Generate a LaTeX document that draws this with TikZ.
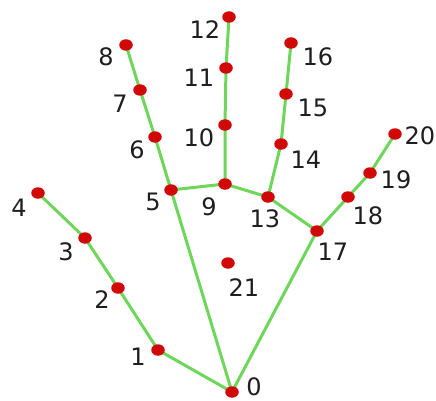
\documentclass[tikz,border=0pt]{standalone}
\usepackage{fontspec}
\setmainfont{DejaVu Sans}
\usetikzlibrary{shapes.geometric}
\definecolor{bonegreen}{RGB}{110,214,90}
\definecolor{jointred}{RGB}{208,8,8}
\definecolor{labelgray}{RGB}{30,30,30}
\begin{document}
\begin{tikzpicture}[x=1pt,y=-1pt,
  bone/.style={draw=bonegreen,line width=3pt,line cap=round},
  joint/.style={ellipse,fill=jointred,inner sep=0pt,minimum width=13.5pt,minimum height=11.5pt},
  lbl/.style={font=\fontsize{24}{24}\selectfont,text=labelgray,inner sep=0pt,anchor=center}]
\useasboundingbox[fill=white] (0,0) rectangle (436,401);
% joint positions
\coordinate (p0) at (232,392);
\coordinate (p1) at (158,350);
\coordinate (p2) at (118,288);
\coordinate (p3) at (85,238);
\coordinate (p4) at (38,193);
\coordinate (p5) at (171,190);
\coordinate (p6) at (155,137);
\coordinate (p7) at (140,90);
\coordinate (p8) at (126,45);
\coordinate (p9) at (225,184);
\coordinate (p10) at (225,125);
\coordinate (p11) at (226,68);
\coordinate (p12) at (229,17);
\coordinate (p13) at (268,197);
\coordinate (p14) at (281,144);
\coordinate (p15) at (286,94);
\coordinate (p16) at (291,43);
\coordinate (p17) at (317,231);
\coordinate (p18) at (348,197);
\coordinate (p19) at (370,173);
\coordinate (p20) at (395,134);
\coordinate (p21) at (228,263);
% bones
\draw[bone] (p0) -- (p1) -- (p2) -- (p3) -- (p4);
\draw[bone] (p0) -- (p5) -- (p6) -- (p7) -- (p8);
\draw[bone] (p5) -- (p9) -- (p10) -- (p11) -- (p12);
\draw[bone] (p9) -- (p13) -- (p14) -- (p15) -- (p16);
\draw[bone] (p13) -- (p17) -- (p18) -- (p19) -- (p20);
\draw[bone] (p0) -- (p17);
% joints
\foreach \i in {0,...,21} { \node[joint] (j\i) at (p\i) {}; }
% labels
\node[lbl] (l0) at (254,387) {0};
\node[lbl] (l1) at (138,357) {1};
\node[lbl] (l2) at (102,300) {2};
\node[lbl] (l3) at (66,252) {3};
\node[lbl] (l4) at (19,208) {4};
\node[lbl] (l5) at (153,202) {5};
\node[lbl] (l6) at (137,150) {6};
\node[lbl] (l7) at (120,104) {7};
\node[lbl] (l8) at (106,57) {8};
\node[lbl] (l9) at (209,207) {9};
\node[lbl] (l10) at (199,138) {10};
\node[lbl] (l11) at (199,78) {11};
\node[lbl] (l12) at (205,30) {12};
\node[lbl] (l13) at (265,219) {13};
\node[lbl] (l14) at (306,160) {14};
\node[lbl] (l15) at (313,108) {15};
\node[lbl] (l16) at (318,57) {16};
\node[lbl] (l17) at (333,252) {17};
\node[lbl] (l18) at (368,216) {18};
\node[lbl] (l19) at (396,180) {19};
\node[lbl,anchor=west] (l20) at (404.5,136) {20};
\node[lbl] (l21) at (244,288) {21};
\end{tikzpicture}
\end{document}
